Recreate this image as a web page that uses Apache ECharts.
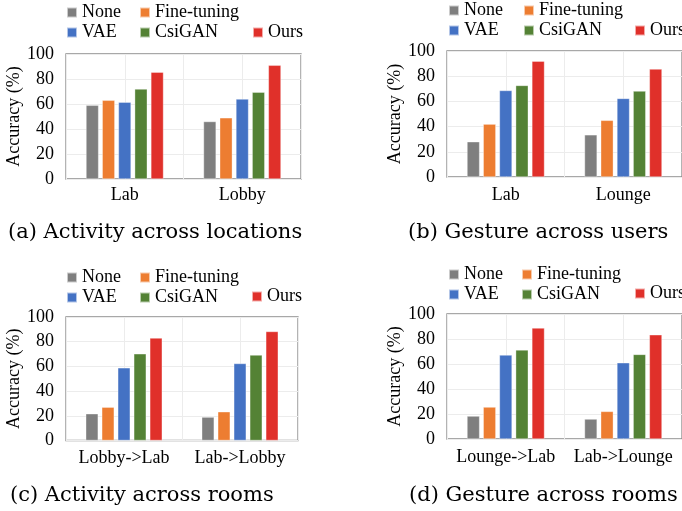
<!DOCTYPE html>
<html>
<head>
<meta charset="utf-8">
<script src="https://cdn.jsdelivr.net/npm/echarts@6/dist/echarts.min.js"></script>
<style>
html,body{margin:0;padding:0;background:#fff;}
#c{width:682px;height:511px;}
</style>
</head>
<body>
<div id="c"></div>
<script>
// ---- data ----
const seriesNames = ['None', 'Fine-tuning', 'VAE', 'CsiGAN', 'Ours'];
const yTicks = [0, 20, 40, 60, 80, 100];

const catsA = ['Lab', 'Lobby'];
const valsA = [[59, 46], [63, 49], [61.5, 64], [72, 69.5], [85.5, 91]];

const catsB = ['Lab', 'Lounge'];
const valsB = [[28, 33.5], [42, 45], [68.7, 62.4], [72.7, 68.2], [92, 85.7]];

const catsC = ['Lobby->Lab', 'Lab->Lobby'];
const valsC = [[21.7, 19], [27, 23.3], [58.9, 62.4], [70.2, 69.2], [83, 88.3]];

const catsD = ['Lounge->Lab', 'Lab->Lounge'];
const valsD = [[18.4, 16], [25.6, 22.1], [67.2, 61], [71.3, 67.7], [88.8, 83.4]];

const captions = ['(a) Activity across locations', '(b) Gesture across users',
                  '(c) Activity across rooms', '(d) Gesture across rooms'];

// ---- styles ----
const colors = ['#7f7f7f', '#ed7d31', '#4472c4', '#548235', '#e0302a'];
const FONT = 'Liberation Serif';
const panels = [
  {cats: catsA, vals: valsA, grid: {left: 66, top: 54, width: 235, height: 125},
   leg: [[66, 3], [139, 3], [252, 23]], labelMargin: 7, cap: {left: 8, top: 222}},
  {cats: catsB, vals: valsB, grid: {left: 447, top: 51, width: 238, height: 126},
   leg: [[448, 1], [523, 1], [634, 21]], labelMargin: 9, cap: {left: 408, top: 222}},
  {cats: catsC, vals: valsC, grid: {left: 66, top: 317, width: 232, height: 123.5},
   leg: [[66, 268], [139, 268], [251, 287]], labelMargin: 9, cap: {left: 10, top: 485}},
  {cats: catsD, vals: valsD, grid: {left: 447, top: 314, width: 238, height: 125},
   leg: [[448, 265], [521, 265], [634, 284]], labelMargin: 9, cap: {left: 409, top: 485}}
];

const grid = [], xAll = [], yAxis = [], series = [], legend = [], title = [];
panels.forEach((p, i) => {
  grid.push(Object.assign({show: true, borderColor: '#8c8c8c', borderWidth: 1.3,
    backgroundColor: 'transparent'}, p.grid));
  // category axis
  xAll.push({type: 'category', gridIndex: i, data: p.cats,
    axisLine: {show: false}, axisTick: {show: false}, splitLine: {show: false},
    axisLabel: {color: '#000', fontFamily: FONT, fontSize: 18, margin: p.labelMargin,
      interval: 0, hideOverlap: false}});
  // value axis used only for light vertical gridlines (every half category)
  xAll.push({type: 'value', gridIndex: i, min: 0, max: 4, interval: 1, show: true,
    axisLine: {show: false}, axisTick: {show: false}, axisLabel: {show: false},
    splitLine: {show: true, lineStyle: {color: '#ececec', width: 1}}});
  yAxis.push({type: 'value', gridIndex: i, min: yTicks[0], max: yTicks[yTicks.length - 1], interval: 20,
    name: 'Accuracy (%)', nameLocation: 'middle', nameGap: 42,
    nameTextStyle: {color: '#000', fontFamily: FONT, fontSize: 18},
    axisLine: {show: false}, axisTick: {show: false},
    splitLine: {show: true, lineStyle: {color: '#ececec', width: 1}},
    axisLabel: {color: '#000', fontFamily: FONT, fontSize: 18, margin: 12}});
  seriesNames.forEach((n, s) => {
    series.push({type: 'bar', name: n, xAxisIndex: i * 2, yAxisIndex: i,
      data: p.vals[s], barGap: '28%', barCategoryGap: '34%',
      itemStyle: {color: colors[s], borderColor: 'rgba(255,255,255,0.6)', borderWidth: 0.6},
      emphasis: {disabled: true}, animation: false});
  });
  const cols = [['None', 'VAE'], ['Fine-tuning', 'CsiGAN'], ['Ours']];
  cols.forEach((c, k) => {
    legend.push({data: c, orient: 'vertical', left: p.leg[k][0], top: p.leg[k][1],
      align: 'left', itemWidth: 10, itemHeight: 10, itemGap: 1, icon: 'rect', padding: 0,
      textStyle: {fontFamily: FONT, fontSize: 18, color: '#000', lineHeight: 19}});
  });
  title.push({text: captions[i], left: p.cap.left, top: p.cap.top, padding: 0,
    textStyle: {fontFamily: 'DejaVu Serif', fontWeight: 'normal', fontSize: 21, color: '#000'}});
});

const chart = echarts.init(document.getElementById('c'), null, {renderer: 'canvas'});
chart.setOption({animation: false, title, grid, xAxis: xAll, yAxis, legend, series});
</script>
</body>
</html>
